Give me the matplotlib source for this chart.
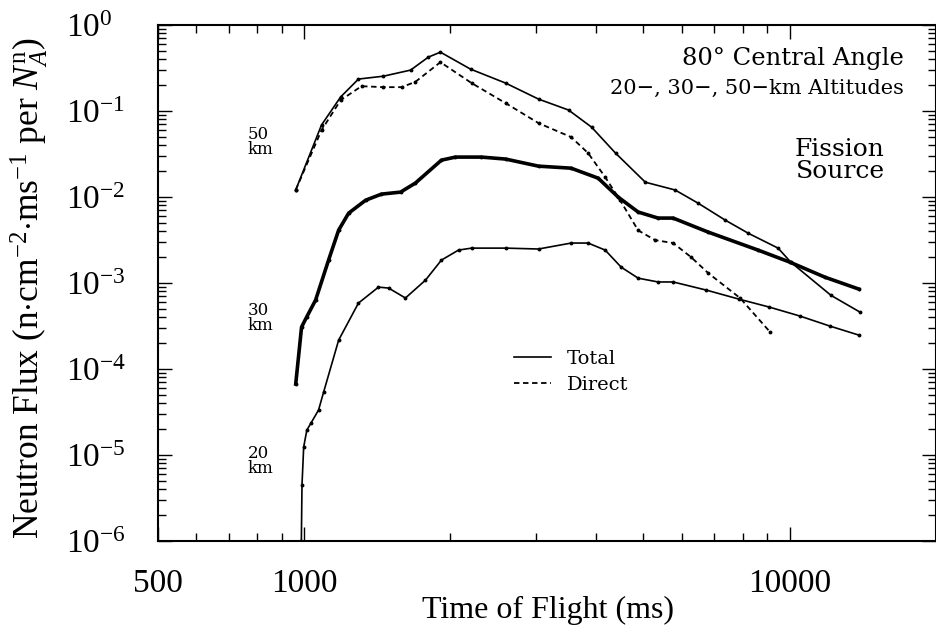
import matplotlib
matplotlib.use('Agg')
import matplotlib.pyplot as plt
from matplotlib.ticker import FixedLocator, NullFormatter, LogFormatterSciNotation

plt.rcParams['font.family'] = ['Liberation Serif', 'DejaVu Serif']
plt.rcParams['mathtext.fontset'] = 'custom'
plt.rcParams['mathtext.rm'] = 'Liberation Serif'
plt.rcParams['mathtext.it'] = 'Liberation Serif:italic'
plt.rcParams['mathtext.bf'] = 'Liberation Serif:bold'

# 50 km altitude, total flux
t50_total = [961, 1086, 1189, 1294, 1457, 1657, 1803, 1909, 2202, 2600, 3040, 3505,
             3910, 4380, 5045, 5810, 6480, 7370, 8220, 9470, 10060, 12170, 13960]
f50_total = [1.21e-2, 6.9e-2, 0.146, 0.236, 0.255, 0.300, 0.425, 0.485, 0.308, 0.212,
             0.138, 0.103, 0.0651, 0.0325, 0.0149, 0.0121, 8.5e-3, 5.4e-3, 3.8e-3,
             2.55e-3, 1.75e-3, 7.2e-4, 4.6e-4]

# 50 km altitude, direct flux
t50_direct = [961, 1086, 1189, 1313, 1457, 1588, 1695, 1909, 2213, 2600, 3040, 3548,
              3846, 4170, 4476, 4877, 5285, 5757, 6270, 6795, 7907, 9120]
f50_direct = [1.21e-2, 6.0e-2, 0.134, 0.195, 0.190, 0.190, 0.219, 0.371, 0.212, 0.124,
              0.0725, 0.0499, 0.0325, 0.0171, 9.2e-3, 4.1e-3, 3.16e-3, 2.92e-3, 2.0e-3,
              1.31e-3, 6.7e-4, 2.69e-4]

# 30 km altitude, total flux
t30 = [961, 988, 1012, 1056, 1123, 1178, 1235, 1339, 1443, 1580, 1695, 1918, 2050,
       2318, 2600, 3040, 3548, 4034, 4436, 4877, 5360, 5757, 6795, 8610, 10020, 11830,
       13900]
f30 = [6.7e-5, 3.08e-4, 4.02e-4, 6.34e-4, 1.85e-3, 4.13e-3, 6.5e-3, 9.2e-3, 1.083e-2,
       1.143e-2, 1.455e-2, 2.69e-2, 2.92e-2, 2.92e-2, 2.77e-2, 2.29e-2, 2.17e-2,
       1.66e-2, 1.0e-2, 6.7e-3, 5.7e-3, 5.7e-3, 3.92e-3, 2.42e-3, 1.75e-3, 1.17e-3,
       8.5e-4]

# 20 km altitude, total flux
t20 = [987, 990, 998, 1013, 1033, 1071, 1097, 1178, 1294, 1423, 1493, 1617, 1778, 1918,
       2080, 2213, 2600, 3040, 3548, 3846, 4170, 4500, 4877, 5360, 5757, 6730, 7870,
       9080, 10510, 12110, 13900]
f20 = [1.0e-6, 4.48e-6, 1.24e-5, 1.95e-5, 2.35e-5, 3.34e-5, 5.4e-5, 2.17e-4, 5.85e-4,
       8.97e-4, 8.75e-4, 6.7e-4, 1.08e-3, 1.85e-3, 2.42e-3, 2.55e-3, 2.55e-3, 2.49e-3,
       2.92e-3, 2.92e-3, 2.42e-3, 1.53e-3, 1.14e-3, 1.03e-3, 1.03e-3, 8.3e-4, 6.5e-4,
       5.26e-4, 4.13e-4, 3.16e-4, 2.48e-4]

x_major = [500, 1000, 10000]
x_major_labels = ['500', '1000', '10000']
x_minor = [600, 700, 800, 900, 2000, 3000, 4000, 5000, 6000, 7000, 8000, 9000, 20000]
y_major = [1e-6, 1e-5, 1e-4, 1e-3, 1e-2, 1e-1, 1e0]

fig = plt.figure(figsize=(9.37, 6.4), dpi=100)
ax = fig.add_axes([0.1686, 0.1547, 0.830, 0.806])

ax.plot(t50_total, f50_total, '-', color='black', lw=1.2, marker='o', ms=1.8,
        label='Total')
ax.plot(t50_direct, f50_direct, color='black', lw=1.3, ls=(0, (3, 2)), marker='o',
        ms=1.8, label='Direct')
ax.plot(t30, f30, '-', color='black', lw=2.6, marker='o', ms=1.8)
ax.plot(t20, f20, '-', color='black', lw=1.2, marker='o', ms=1.8)

ax.set_xscale('log')
ax.set_yscale('log')
ax.set_xlim(500, 20000)
ax.set_ylim(1e-6, 1)

ax.xaxis.set_major_locator(FixedLocator(x_major))
ax.set_xticklabels(x_major_labels)
ax.xaxis.set_minor_locator(FixedLocator(x_minor))
ax.xaxis.set_minor_formatter(NullFormatter())
ax.yaxis.set_major_locator(FixedLocator(y_major))
ax.yaxis.set_major_formatter(LogFormatterSciNotation())

ax.tick_params(which='both', direction='in', top=True, right=True, width=1)
ax.tick_params(which='major', length=10)
ax.tick_params(which='minor', length=6)
ax.tick_params(axis='x', labelsize=24, pad=20)
ax.tick_params(axis='y', labelsize=24, pad=66)
for lab in ax.get_yticklabels():
    lab.set_horizontalalignment('left')
for s in ax.spines.values():
    s.set_linewidth(1.5)

ax.set_xlabel('Time of Flight (ms)', fontsize=23)
ax.xaxis.set_label_coords(0.501, -0.107)
ax.set_ylabel(r'Neutron Flux (n$\cdot$cm$^{-2}$$\cdot$ms$^{-1}$ per $N_A^{\rm n}$)',
              fontsize=25.5)
ax.yaxis.set_label_coords(-0.139, 0.49)

ann = ['DejaVu Serif']
ax.text(0.959, 0.936, '80° Central Angle', transform=ax.transAxes, ha='right',
        va='center', fontsize=17.5, family=ann)
ax.text(0.959, 0.878, '20−, 30−, 50−km Altitudes', transform=ax.transAxes,
        ha='right', va='center', fontsize=15, family=ann)
ax.text(0.877, 0.738, 'Fission\nSource', transform=ax.transAxes, ha='center',
        va='center', fontsize=18, family=ann, linespacing=0.95)
ax.text(0.1157, 0.773, '50\nkm', transform=ax.transAxes, ha='left', va='center',
        fontsize=12, family=ann, linespacing=0.85)
ax.text(0.1157, 0.432, '30\nkm', transform=ax.transAxes, ha='left', va='center',
        fontsize=12, family=ann, linespacing=0.85)
ax.text(0.1157, 0.155, '20\nkm', transform=ax.transAxes, ha='left', va='center',
        fontsize=12, family=ann, linespacing=0.85)

leg = ax.legend(loc='upper left', bbox_to_anchor=(0.448, 0.385), frameon=False,
                handlelength=1.9, handletextpad=0.8, labelspacing=0.4,
                prop={'family': 'DejaVu Serif', 'size': 14}, borderaxespad=0)
for h in leg.legend_handles:
    h.set_marker('')

fig.savefig('out.png', dpi=100)
